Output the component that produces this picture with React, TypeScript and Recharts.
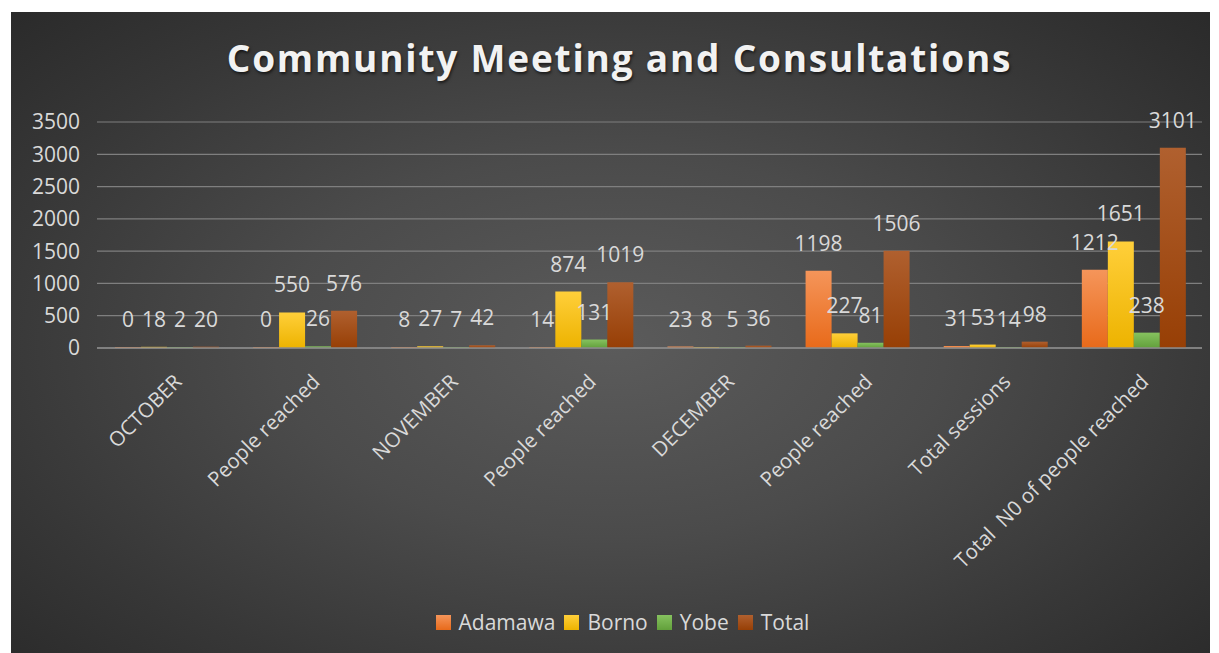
import React from "react";
import {
  BarChart,
  Bar,
  XAxis,
  YAxis,
  CartesianGrid,
  Legend,
  LabelList,
} from "recharts";

// values
const categories = [
  "OCTOBER",
  "People reached",
  "NOVEMBER",
  "People reached",
  "DECEMBER",
  "People reached",
  "Total sessions",
  "Total  N0 of people reached",
];
const adamawa = [0, 0, 8, 14, 23, 1198, 31, 1212];
const borno = [18, 550, 27, 874, 8, 227, 53, 1651];
const yobe = [2, 26, 7, 131, 5, 81, 14, 238];
const total = [20, 576, 42, 1019, 36, 1506, 98, 3101];
const yTicks = [0, 500, 1000, 1500, 2000, 2500, 3000, 3500];

const SERIES = [
  { key: "Adamawa", top: "#F5955A", bottom: "#E86A1A" },
  { key: "Borno", top: "#FFCF3A", bottom: "#EDB300" },
  { key: "Yobe", top: "#86C25F", bottom: "#62A03B" },
  { key: "Total", top: "#B0602F", bottom: "#973F05" },
];

const data = categories.map((name, i) => ({
  name,
  Adamawa: adamawa[i],
  Borno: borno[i],
  Yobe: yobe[i],
  Total: total[i],
}));

const FONT = "'Open Sans', 'DejaVu Sans', sans-serif";
const TEXT = "#d9d9d9";

function CategoryTick(props: any) {
  const { x, y, payload } = props;
  const ax = x + 17;
  const ay = y + 35;
  return (
    <text
      x={ax}
      y={ay}
      transform={`rotate(-45 ${ax} ${ay})`}
      textAnchor="end"
      fill={TEXT}
      fontSize={20.5}
      fontFamily={FONT}
      style={{ whiteSpace: "pre" }}
    >
      {payload.value}
    </text>
  );
}

function LegendBox() {
  return (
    <div
      style={{
        display: "flex",
        justifyContent: "center",
        alignItems: "center",
        height: 40,
        marginLeft: 41,
        fontFamily: FONT,
        fontSize: 21,
        color: TEXT,
      }}
    >
      {SERIES.map((s) => (
        <div key={s.key} style={{ display: "flex", alignItems: "center", marginRight: 9 }}>
          <span
            style={{
              width: 15,
              height: 15,
              marginRight: 8,
              background: `linear-gradient(${s.top}, ${s.bottom})`,
            }}
          />
          <span>{s.key}</span>
        </div>
      ))}
    </div>
  );
}

export default function App() {
  return (
    <div
      style={{
        position: "relative",
        width: 1199,
        height: 641,
        marginLeft: 3,
        marginTop: 4,
        background:
          "radial-gradient(ellipse 70% 75% at 50% 52%, #5b5b5b 0%, #4b4b4b 40%, #373737 75%, #2a2a2a 100%)",
      }}
    >
      <div
        style={{
          position: "absolute",
          left: 0,
          width: 1199,
          top: 27,
          textAlign: "center",
          fontFamily: FONT,
          fontWeight: 700,
          fontSize: 37,
          lineHeight: "37px",
          letterSpacing: 1.8,
          color: "#f2f2f2",
          textShadow: "1px 2px 3px rgba(0,0,0,0.6)",
          paddingLeft: 18,
          boxSizing: "border-box",
        }}
      >
        Community Meeting and Consultations
      </div>
      <BarChart
        width={1199}
        height={641}
        data={data}
        margin={{ top: 110, right: 8, left: 0, bottom: 11 }}
        barGap={0}
        barCategoryGap="13%"
      >
        <defs>
          {SERIES.map((s) => (
            <linearGradient key={s.key} id={`grad-${s.key}`} x1="0" y1="0" x2="0" y2="1">
              <stop offset="0%" stopColor={s.top} />
              <stop offset="100%" stopColor={s.bottom} />
            </linearGradient>
          ))}
        </defs>
        <CartesianGrid vertical={false} stroke="#7f7f7f" strokeWidth={1.2} />
        <XAxis
          dataKey="name"
          interval={0}
          height={254}
          tickLine={false}
          tickSize={0}
          tickMargin={0}
          axisLine={{ stroke: "#8c8c8c", strokeWidth: 1.5 }}
          tick={<CategoryTick />}
        />
        <YAxis
          width={86}
          domain={[0, 3500]}
          ticks={yTicks}
          axisLine={false}
          tickLine={false}
          tickSize={0}
          tickMargin={17}
          tick={{ fill: TEXT, fontSize: 21, fontFamily: FONT }}
        />
        <Legend verticalAlign="bottom" height={40} content={<LegendBox />} />
        {SERIES.map((s) => (
          <Bar
            key={s.key}
            dataKey={s.key}
            fill={`url(#grad-${s.key})`}
            minPointSize={1}
            isAnimationActive={false}
          >
            <LabelList
              dataKey={s.key}
              position="top"
              offset={20}
              fill={TEXT}
              fontSize={21}
              fontFamily={FONT}
            />
          </Bar>
        ))}
      </BarChart>
    </div>
  );
}
